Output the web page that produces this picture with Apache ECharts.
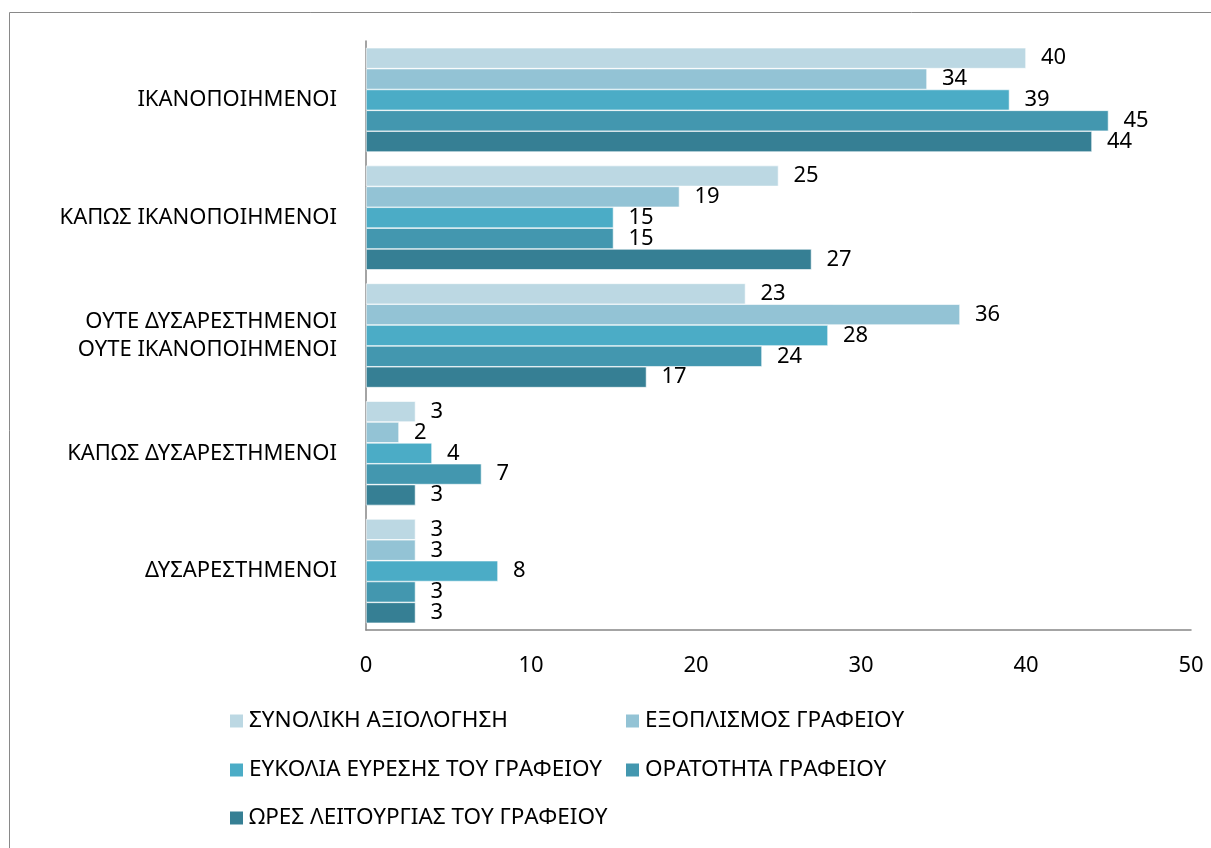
<!DOCTYPE html>
<html>
<head>
<meta charset="utf-8">
<script src="https://cdn.jsdelivr.net/npm/echarts@6/dist/echarts.min.js"></script>
<style>html,body{margin:0;padding:0;background:#fff;}#c{width:1211px;height:848px;}</style>
</head>
<body>
<div id="c"></div>
<script>
const categories = ['ΙΚΑΝΟΠΟΙΗΜΕΝΟΙ', 'ΚΑΠΩΣ ΙΚΑΝΟΠΟΙΗΜΕΝΟΙ', 'ΟΥΤΕ ΔΥΣΑΡΕΣΤΗΜΕΝΟΙ\nΟΥΤΕ ΙΚΑΝΟΠΟΙΗΜΕΝΟΙ', 'ΚΑΠΩΣ ΔΥΣΑΡΕΣΤΗΜΕΝΟΙ', 'ΔΥΣΑΡΕΣΤΗΜΕΝΟΙ'];
const seriesNames = ['ΣΥΝΟΛΙΚΗ ΑΞΙΟΛΟΓΗΣΗ', 'ΕΞΟΠΛΙΣΜΟΣ ΓΡΑΦΕΙΟΥ', 'ΕΥΚΟΛΙΑ ΕΥΡΕΣΗΣ ΤΟΥ ΓΡΑΦΕΙΟΥ', 'ΟΡΑΤΟΤΗΤΑ ΓΡΑΦΕΙΟΥ', 'ΩΡΕΣ ΛΕΙΤΟΥΡΓΙΑΣ ΤΟΥ ΓΡΑΦΕΙΟΥ'];
const synolikh = [40, 25, 23, 3, 3];
const exoplismos = [34, 19, 36, 2, 3];
const eukolia = [39, 15, 28, 4, 8];
const oratotita = [45, 15, 24, 7, 3];
const ores = [44, 27, 17, 3, 3];
const xTicks = [0, 10, 20, 30, 40, 50];

const seriesData = [synolikh, exoplismos, eukolia, oratotita, ores];
const colors = ['#BCD8E3', '#93C3D5', '#4BACC6', '#4397AF', '#367F94'];
const FONT = 'Noto Sans';

const chart = echarts.init(document.getElementById('c'), null, {renderer: 'canvas'});

const legendPos = [
  {left: 228, cy: 721},
  {left: 624, cy: 721},
  {left: 228, cy: 770},
  {left: 624, cy: 770},
  {left: 228, cy: 818}
];

const option = {
  backgroundColor: '#fff',
  animation: false,
  textStyle: {fontFamily: FONT},
  graphic: [{
    type: 'rect',
    shape: {x: 9.5, y: 12.5, width: 1220, height: 860},
    style: {fill: 'none', stroke: '#898989', lineWidth: 1},
    silent: true
  }],
  legend: seriesNames.map((n, i) => ({
    data: [n],
    left: legendPos[i].left,
    top: legendPos[i].cy - 12,
    itemWidth: 15,
    itemHeight: 15,
    itemGap: 0,
    padding: 0,
    icon: 'rect',
    textStyle: {fontSize: 22.5, lineHeight: 24, color: '#000', fontFamily: FONT, padding: [0, 0, 0, 0]}
  })),
  grid: {left: 366, right: 20, top: 41, bottom: 218, containLabel: false},
  xAxis: {
    type: 'value',
    min: xTicks[0],
    max: xTicks[xTicks.length - 1],
    interval: 10,
    axisLine: {show: true, lineStyle: {color: '#868686', width: 1.5}},
    axisTick: {show: false},
    splitLine: {show: false},
    axisLabel: {fontSize: 22, color: '#000', margin: 25, fontFamily: FONT}
  },
  yAxis: {
    type: 'category',
    data: categories,
    inverse: true,
    axisLine: {show: true, lineStyle: {color: '#868686', width: 1.5}},
    axisTick: {show: false},
    axisLabel: {fontSize: 22, color: '#000', margin: 29, lineHeight: 28, fontFamily: FONT, padding: [4, 0, 0, 0]}
  },
  series: seriesNames.map((n, i) => ({
    name: n,
    type: 'bar',
    data: seriesData[i],
    barGap: '0%',
    barCategoryGap: '11.5%',
    itemStyle: {color: colors[i], borderColor: '#fff', borderWidth: 0.6},
    label: {show: true, position: 'right', distance: 15, color: '#000', fontSize: 22, fontFamily: FONT, padding: [3, 0, 0, 0]}
  }))
};
chart.setOption(option);
</script>
</body>
</html>
